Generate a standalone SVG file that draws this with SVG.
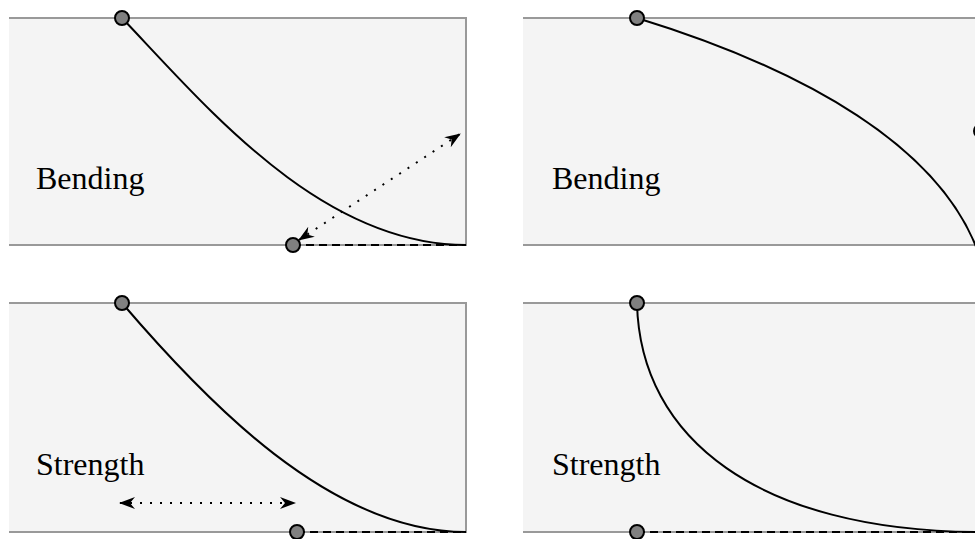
<svg xmlns="http://www.w3.org/2000/svg" width="975" height="539" viewBox="0 0 975 539">
<style>
.bg{fill:#f4f4f4;stroke:none}
.edge{stroke:#999;stroke-width:2;fill:none}
.curve{stroke:#000;stroke-width:2;fill:none}
.dash{stroke:#000;stroke-width:2;stroke-dasharray:8,5;fill:none}
.dot{stroke:#000;stroke-width:2;stroke-dasharray:2,8;fill:none}
.pin{fill:#808080;stroke:#000;stroke-width:2}
.lbl{font-family:"Liberation Serif","Times New Roman",serif;font-size:32px;fill:#000}
</style>
<defs>
<marker id="ah" viewBox="0 0 16 12" refX="15" refY="6" markerWidth="16" markerHeight="12" markerUnits="userSpaceOnUse" orient="auto-start-reverse">
<path d="M0,0 L16,6 L0,12 L5,6 Z" fill="#000"/>
</marker>
</defs>
<g id="panel-bending-left">
<rect class="bg" x="9" y="18" width="457" height="227"/>
<path class="edge" d="M9,18 H466 V245 H9"/>
<text class="lbl" x="36" y="189">Bending</text>
</g>
<g id="panel-bending-right">
<rect class="bg" x="523" y="18" width="452" height="227"/>
<path class="edge" d="M523,18 H975 M523,245 H975"/>
<text class="lbl" x="552" y="189">Bending</text>
</g>
<g id="panel-strength-left">
<rect class="bg" x="9" y="303" width="457" height="229"/>
<path class="edge" d="M9,303 H466 V532 H9"/>
<text class="lbl" x="36" y="475">Strength</text>
</g>
<g id="panel-strength-right">
<rect class="bg" x="523" y="303" width="452" height="229"/>
<path class="edge" d="M523,303 H975 M523,532 H975"/>
<text class="lbl" x="552" y="475">Strength</text>
</g>
<g id="connectors">
<path class="curve" d="M122,18 C205,105 320,245 466,245"/>
<path class="dash" d="M293,245 H466"/>
<path class="dot" d="M299,240 L460,134" marker-start="url(#ah)" marker-end="url(#ah)"/>
<path class="curve" d="M637,18 C790,65 955,145 985,275"/>
<path class="curve" d="M122,303 C205,400 330,532 466,532"/>
<path class="dash" d="M297,532 H466"/>
<path class="dot" d="M120,503 L295,503" marker-start="url(#ah)" marker-end="url(#ah)"/>
<path class="curve" d="M637,303 C640,440 760,530 975,532"/>
<path class="dash" d="M637,532 H975"/>
</g>
<g id="pin-tl"><circle class="pin" cx="122" cy="18" r="7"/></g>
<g id="pin-bl"><circle class="pin" cx="293" cy="245" r="7"/></g>
<g id="pin-tr"><circle class="pin" cx="637" cy="18" r="7"/></g>
<g id="pin-tr-side"><circle class="pin" cx="981" cy="131" r="7"/></g>
<g id="pin-tl2"><circle class="pin" cx="122" cy="303" r="7"/></g>
<g id="pin-bl2"><circle class="pin" cx="297" cy="532" r="7"/></g>
<g id="pin-tr2"><circle class="pin" cx="637" cy="303" r="7"/></g>
<g id="pin-br2"><circle class="pin" cx="637" cy="532" r="7"/></g>
</svg>
